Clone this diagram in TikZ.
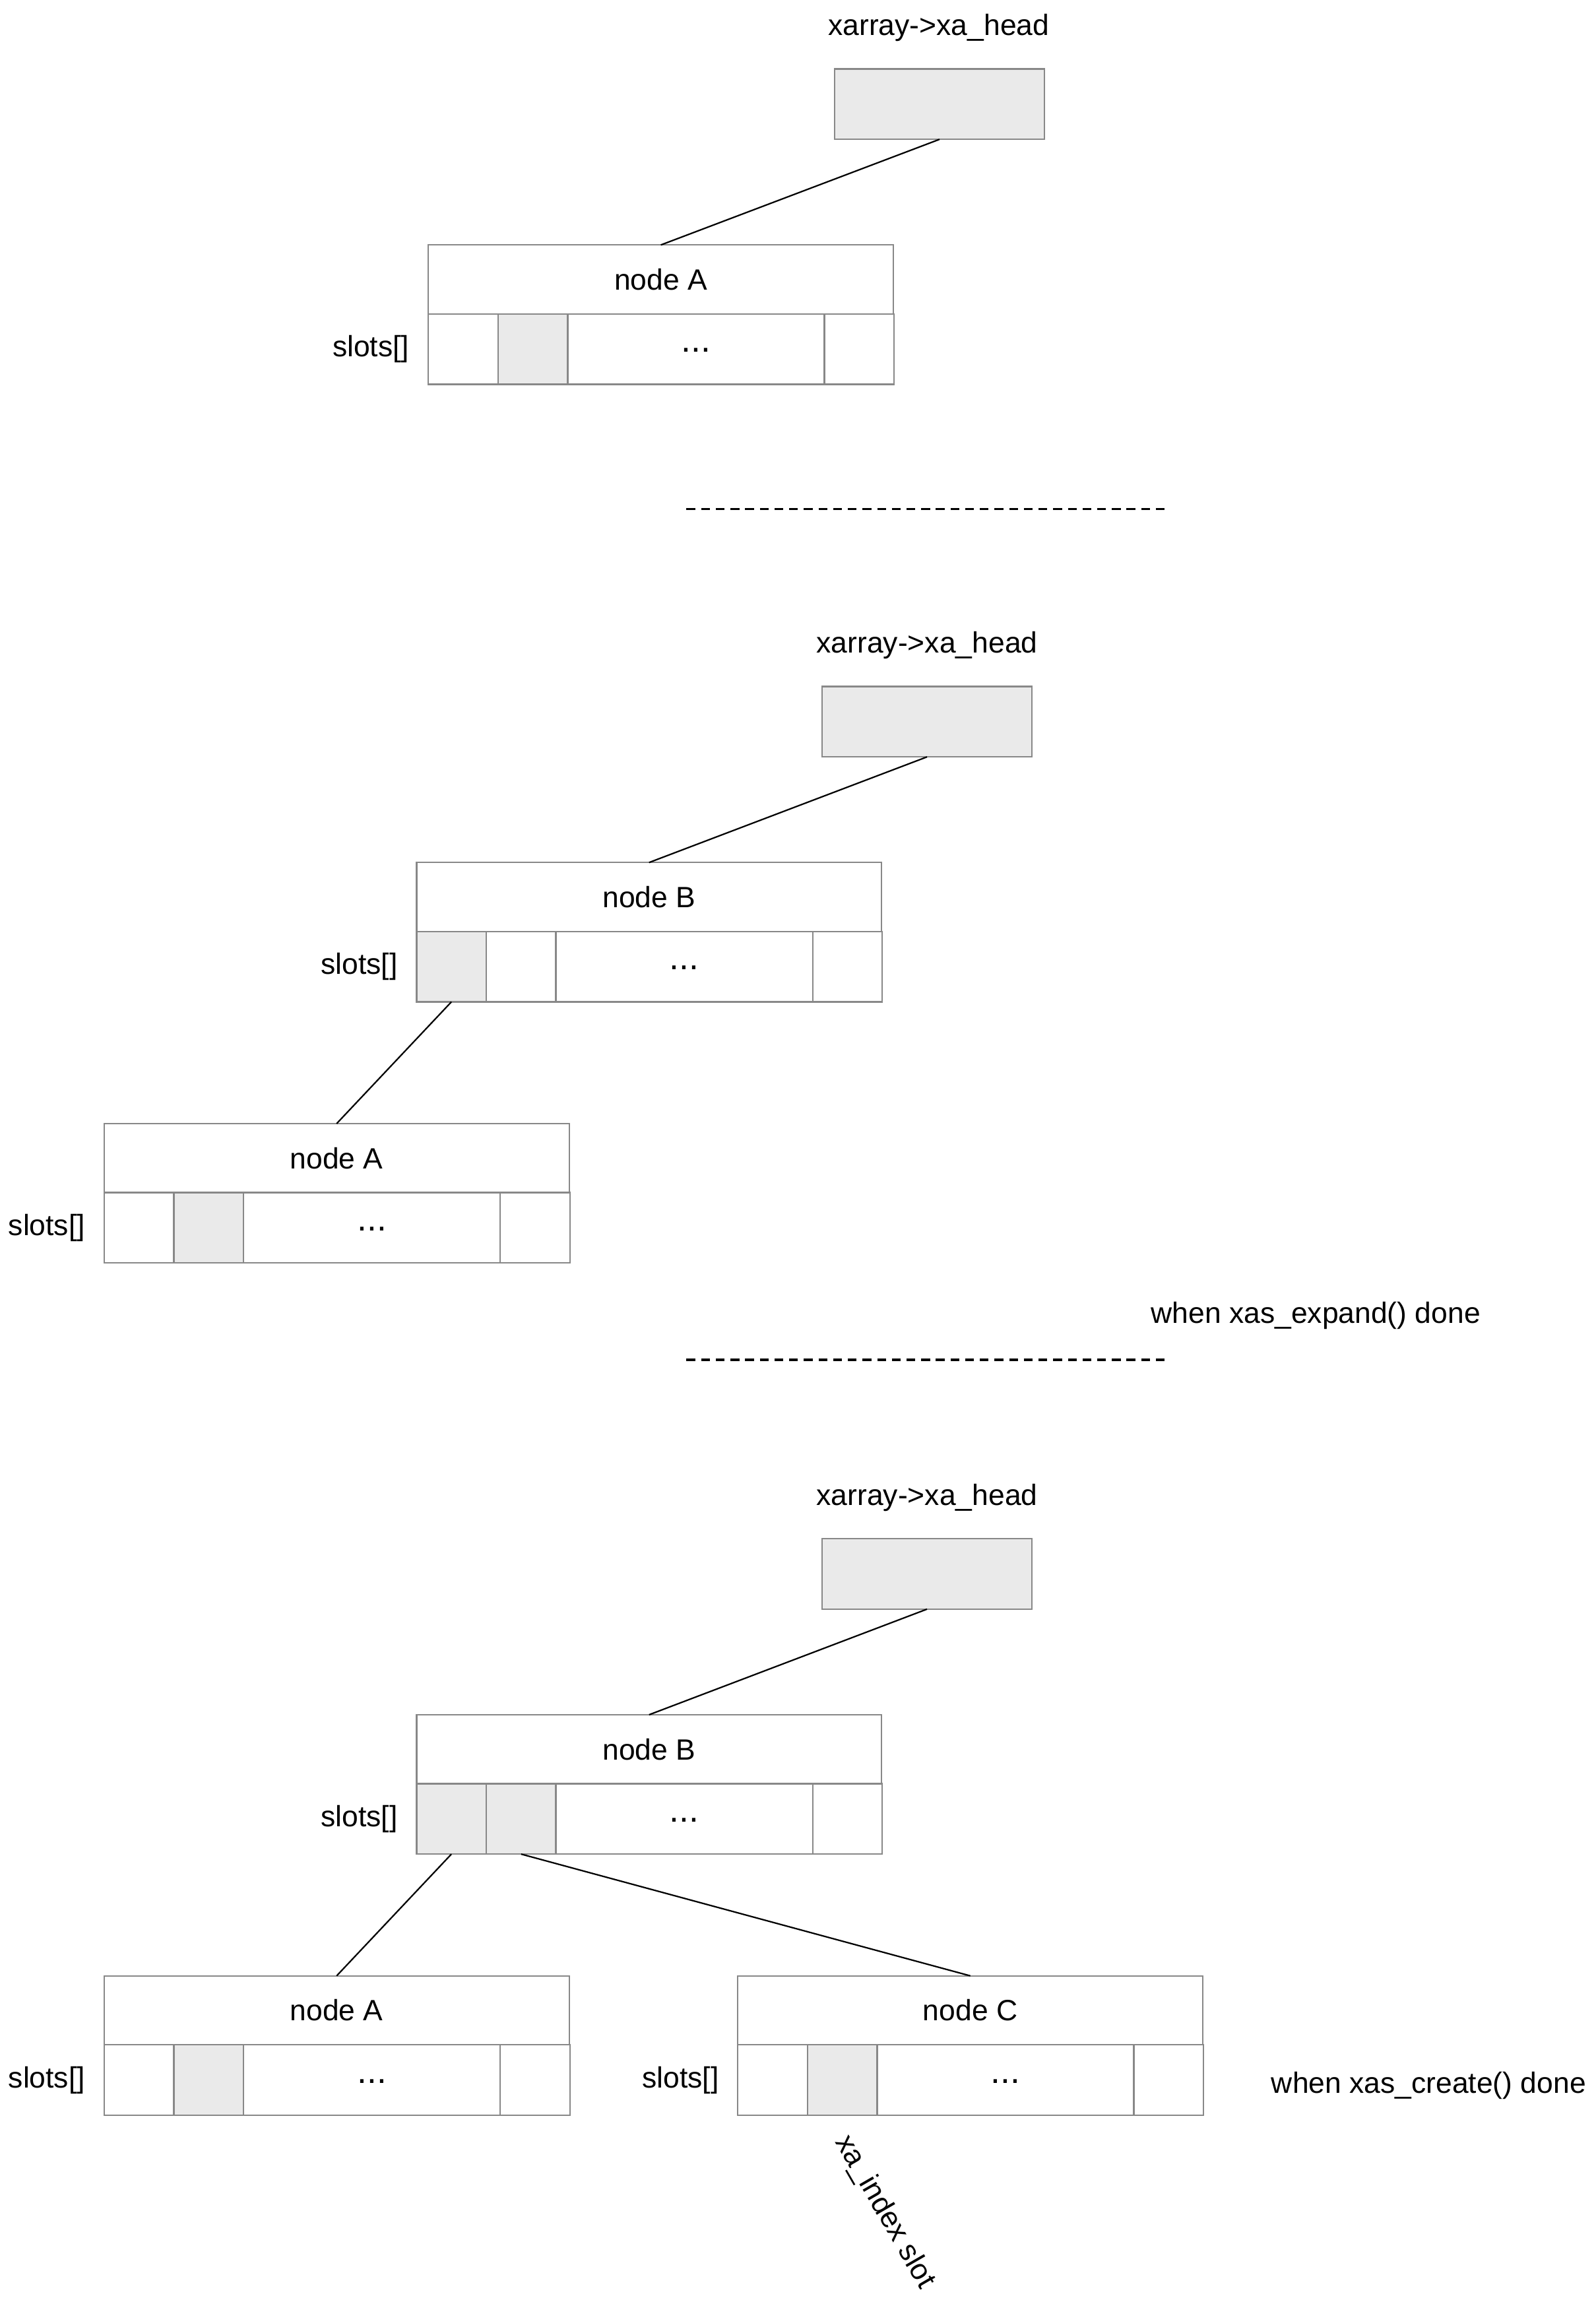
\documentclass[tikz,border=0pt]{standalone}
\usepackage{fontspec}
\setmainfont{Liberation Sans}
\usetikzlibrary{positioning}

\definecolor{boxgray}{RGB}{136,136,136}
\definecolor{cellgray}{RGB}{234,234,234}

% One xa_node: header with its label, then four slots (#5, #6 fill the first two)
\newcommand{\xanode}[6]{%
    \node[hdr] (#1) at (#2,#3) {#4};
    \node[cell, fill=#5, anchor=north west] (#1-s1) at (#1.south west) {};
    \node[cell, fill=#6, right=0pt of #1-s1] (#1-s2) {};
    \node[cell, minimum width=87.5pt, right=0pt of #1-s2] (#1-s3) {\raisebox{-2pt}{\large ...}};
    \node[cell, right=0pt of #1-s3] (#1-s4) {};
    \node[slotlabel, left=6.5pt of #1-s1] (#1-lbl) {slots[]};
}

\begin{document}
\begin{tikzpicture}[
    x=0.5pt, y=-0.5pt, % one unit per pixel of the sketch, y down
    font=\fontsize{10}{12}\selectfont,
    every node/.style={outer sep=0pt},
    headbox/.style={draw=boxgray, fill=cellgray, line width=0.5pt,
        minimum width=71.5pt, minimum height=24pt}, % xa_head box
    hdr/.style={draw=boxgray, fill=white, line width=0.5pt,
        minimum width=158.5pt, minimum height=23.5pt, anchor=north west}, % node header
    cell/.style={draw=boxgray, line width=0.5pt, minimum width=23.75pt,
        minimum height=24pt, inner sep=0pt}, % one slot
    slotlabel/.style={inner sep=0pt},
    note/.style={inner sep=0pt},
    link/.style={black, line width=0.5pt}, % parent to child
    sep/.style={black, line width=0.8pt, dash pattern=on 3pt off 2pt} % stage separator
]
    \useasboundingbox (0,0) rectangle (1088,1568);

    % Stage 1: xa_head points to node A
    \node[note] (head1-lbl) at (640,19) {xarray->xa\_head};
    \node[headbox] (head1) at (640.5,71) {};
    \xanode{topA}{292}{167}{node A}{white}{cellgray}
    \draw[link] (head1.south) -- (topA.north);

    \coordinate (sep1l) at (468,347);
    \coordinate (sep1r) at (795,347);
    \draw[sep] (sep1l) -- (sep1r);

    % Stage 2: after xas_expand()
    \node[note] (head2-lbl) at (632,440) {xarray->xa\_head};
    \node[headbox] (head2) at (632,492) {};
    \xanode{midB}{284}{588}{node B}{cellgray}{white}
    \xanode{midA}{71}{766}{node A}{white}{cellgray}
    \draw[link] (head2.south) -- (midB.north);
    \draw[link] (midB-s1.south) -- (midA.north);
    \node[note] (expand) at (897,897) {when xas\_expand() done};

    \coordinate (sep2l) at (468,927);
    \coordinate (sep2r) at (795,927);
    \draw[sep] (sep2l) -- (sep2r);

    % Stage 3: after xas_create()
    \node[note] (head3-lbl) at (632,1021) {xarray->xa\_head};
    \node[headbox] (head3) at (632,1073) {};
    \xanode{botB}{284}{1169}{node B}{cellgray}{cellgray}
    \xanode{botA}{71}{1347}{node A}{white}{cellgray}
    \xanode{botC}{503}{1347}{node C}{white}{cellgray}
    \draw[link] (head3.south) -- (botB.north);
    \draw[link] (botB-s1.south) -- (botA.north);
    \draw[link] (botB-s2.south) -- (botC.north);
    \node[note] (create) at (974,1422) {when xas\_create() done};
    \node[note, rotate=-60] (index) at (603,1508) {xa\_index slot};

\end{tikzpicture}
\end{document}
